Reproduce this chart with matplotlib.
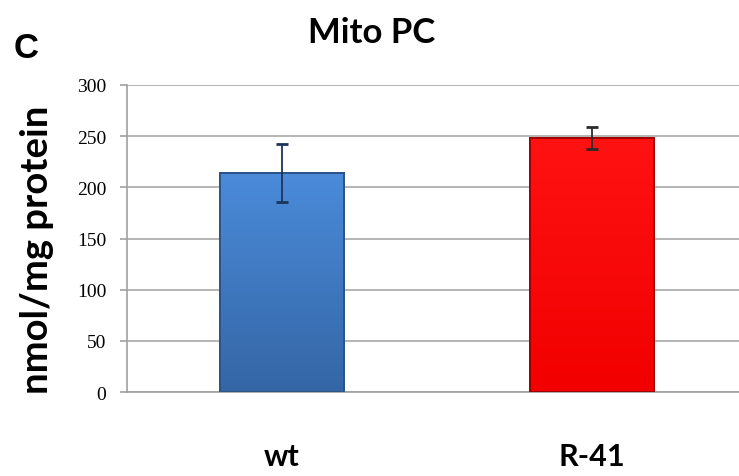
import numpy as np
import matplotlib
matplotlib.use("Agg")
import matplotlib.pyplot as plt
from matplotlib.colors import LinearSegmentedColormap

# Data
categories = ["wt", "R-41"]
values = [214, 248]
errors = [28, 11]
yticks = [0, 50, 100, 150, 200, 250, 300]

bar_top_colors = ["#4b8bda", "#ff1212"]
bar_bottom_colors = ["#3466a5", "#f20000"]
edge_colors = ["#2c5488", "#a00000"]
err_colors = ["#1c3558", "#2a2a2a"]

fig = plt.figure(figsize=(7.39, 4.77), dpi=100)
ax = fig.add_axes([127 / 739, 1 - 393 / 477, 620 / 739, 307 / 477])

x = np.arange(len(categories))
width = 0.40

ax.set_xlim(-0.5, 1.5)
ax.set_ylim(0, 300)

# gridlines
ax.set_yticks(yticks)
ax.yaxis.grid(True, color="#a8a8a8", linewidth=1.2)
ax.set_axisbelow(True)

bars = ax.bar(x, values, width=width, color=bar_bottom_colors,
              edgecolor=edge_colors, linewidth=1.2, zorder=2)

# vertical gradient fill inside each bar
for b, ctop, cbot in zip(bars, bar_top_colors, bar_bottom_colors):
    cmap = LinearSegmentedColormap.from_list("g", [cbot, ctop])
    grad = np.linspace(0, 1, 256).reshape(-1, 1)
    bx, by = b.get_x(), b.get_y()
    bw, bh = b.get_width(), b.get_height()
    im = ax.imshow(grad, cmap=cmap, aspect="auto", origin="lower",
                   extent=[bx, bx + bw, by, by + bh], zorder=2.5)
    im.set_clip_path(b)
    # thin darker frame on top of the gradient
    ax.bar(bx + bw / 2, bh, width=bw, bottom=by, fill=False,
           edgecolor=b.get_edgecolor(), linewidth=1.4, zorder=3)

for xi, v, e, c in zip(x, values, errors, err_colors):
    ax.errorbar(xi, v, yerr=e, fmt="none", ecolor=c, elinewidth=1.3,
                capsize=4, capthick=2.0, zorder=4)

# axes styling
for s in ["top", "right"]:
    ax.spines[s].set_visible(False)
ax.spines["left"].set_color("#a0a0a0")
ax.spines["bottom"].set_color("#a0a0a0")
ax.spines["left"].set_linewidth(1.2)
ax.spines["bottom"].set_linewidth(1.2)

ax.tick_params(axis="y", length=5, color="#a0a0a0", width=1.2, pad=10)
ax.set_yticklabels([str(t) for t in yticks], fontfamily="Liberation Serif",
                   fontsize=14)
ax.set_xticks(x)
ax.set_xticklabels(categories, fontfamily="Lato", fontweight="bold",
                   fontsize=22)
ax.tick_params(axis="x", length=0, pad=36)

fig.text(37 / 739, 1 - 250 / 477, "nmol/mg protein", rotation=90,
         ha="center", va="center", fontfamily="Lato", fontweight="bold",
         fontsize=27.5)
fig.text(372 / 739, 1 - 43 / 477, "Mito PC", ha="center", va="baseline",
         fontfamily="Lato", fontweight="bold", fontsize=25)
fig.text(14 / 739, 1 - 58 / 477, "C", ha="left", va="baseline",
         fontfamily="Liberation Sans", fontweight="bold", fontsize=25)

fig.savefig("out.png", dpi=100)
